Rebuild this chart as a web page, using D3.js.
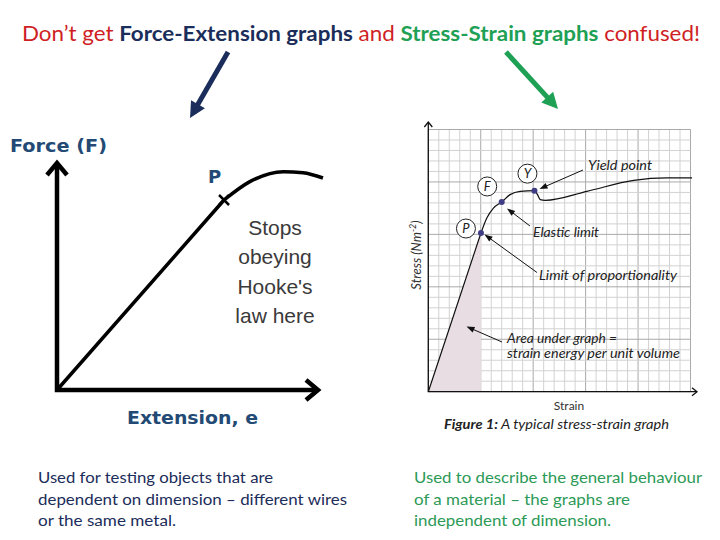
<!DOCTYPE html>
<html><head><meta charset="utf-8">
<script src="https://cdn.jsdelivr.net/npm/d3@7"></script>
<style>html,body{margin:0;padding:0;background:#fff;} svg{display:block;}</style>
</head><body>
<script>
// ---------- data ----------
const titleParts = ["Don’t get ", "Force-Extension graphs", " and ", "Stress-Strain graphs", " confused!"];
const titleKinds = ["red", "navy", "red", "green", "red"];

// Force–extension graph (arbitrary units 0..10 on each axis); index 1 = point P
const feCurve = [[0,0],[6.40,8.37],[7.39,9.18],[8.67,9.62],[9.43,9.57],[10.19,9.34]];
const feNote = ["Stops", "obeying", "Hooke's", "law here"];

// Stress–strain graph (grid units, 25 x 25 squares); index 1 = point P
const ssCurve = [[0,0],[5.02,15.13],[5.58,16.56],[6.21,17.51],[7.0,18.09],[7.8,18.79],[8.76,19.1],
  [10.12,19.17],[10.41,18.79],[10.67,18.31],[11.15,18.24],[15.13,19.1],[19.58,20.15],[22.77,20.38],[25.15,20.38]];
const ssKeyLabels = ["P", "F", "Y"];
const ssKeyPoints = [[5.02,15.13],[7.0,18.09],[10.12,19.17]];
const ssNotes = ["Yield point", "Elastic limit", "Limit of proportionality", "Area under graph =", "strain energy per unit volume"];

const leftText = ["Used for testing objects that are", "dependent on dimension – different wires", "or the same metal."];
const rightText = ["Used to describe the general behaviour", "of a material – the graphs are", "independent of dimension."];

// ---------- drawing ----------
const W = 720, H = 540;
const COL = {red:"#cf1f25", navy:"#1b2d5a", green:"#1ea055", lbl:"#234a75", gray:"#3a3a3a", bgreen:"#2d9a57"};
const svg = d3.select("body").append("svg").attr("width", W).attr("height", H);

function arrow(g, x1, y1, x2, y2, color, w, hl, hw) {
  const a = Math.atan2(y2 - y1, x2 - x1), c = Math.cos(a), s = Math.sin(a);
  const bx = x2 - hl * c, by = y2 - hl * s;
  g.append("line").attr("x1", x1).attr("y1", y1).attr("x2", bx + c).attr("y2", by + s)
    .attr("stroke", color).attr("stroke-width", w);
  g.append("path").attr("d", `M${x2},${y2}L${bx - hw/2*s},${by + hw/2*c}L${bx + hw/2*s},${by - hw/2*c}Z`).attr("fill", color);
}

// Title
const title = svg.append("text").attr("x", 22).attr("y", 41)
  .attr("font-family", "Lato, 'Open Sans', sans-serif").attr("font-size", 21)
  .attr("textLength", 678).attr("lengthAdjust", "spacingAndGlyphs");
titleParts.forEach((t, i) => title.append("tspan").text(t)
  .attr("fill", COL[titleKinds[i]]).attr("font-weight", titleKinds[i] === "red" ? 400 : 700));

arrow(svg, 228, 52, 190, 118, COL.navy, 5, 16, 16);
arrow(svg, 506, 52, 558, 109, COL.green, 5, 16, 16);

// ---- Left: force-extension ----
const xL = d3.scaleLinear().domain([0, 10]).range([57, 318]);
const yL = d3.scaleLinear().domain([0, 10]).range([390, 163]);
const gL = svg.append("g");
gL.append("path").attr("d", `M${xL(0)},${yL(10)}L${xL(0)},${yL(0)}L${xL(10)},${yL(0)}`)
  .attr("fill", "none").attr("stroke", "#000").attr("stroke-width", 4.5);
gL.append("path").attr("d", `M${xL(0)-10},${yL(10)+12}L${xL(0)},${yL(10)}L${xL(0)+10},${yL(10)+12}`)
  .attr("fill", "none").attr("stroke", "#000").attr("stroke-width", 4.5);
gL.append("path").attr("d", `M${xL(10)-12},${yL(0)-10}L${xL(10)},${yL(0)}L${xL(10)-12},${yL(0)+10}`)
  .attr("fill", "none").attr("stroke", "#000").attr("stroke-width", 4.5);
const lineL = d3.line().x(d => xL(d[0])).y(d => yL(d[1]));
gL.append("path").attr("d", lineL(feCurve.slice(0, 2)) + lineL.curve(d3.curveMonotoneX)(feCurve.slice(1)).replace(/^M/, "L"))
  .attr("fill", "none").attr("stroke", "#000").attr("stroke-width", 3.5).attr("stroke-linejoin", "round");
const px = xL(feCurve[1][0]), py = yL(feCurve[1][1]);
gL.append("path").attr("d", `M${px-5},${py-5}L${px+5},${py+5}M${px-5},${py+5}L${px+5},${py-5}`)
  .attr("stroke", "#000").attr("stroke-width", 2.5);
gL.append("text").attr("x", 10).attr("y", 152).text("Force (F)")
  .attr("font-family", "'DejaVu Sans', sans-serif").attr("font-weight", 700).attr("font-size", 18)
  .attr("fill", COL.lbl).attr("textLength", 97).attr("lengthAdjust", "spacingAndGlyphs");
gL.append("text").attr("x", 208).attr("y", 183).text("P")
  .attr("font-family", "'DejaVu Sans', sans-serif").attr("font-weight", 700).attr("font-size", 18).attr("fill", COL.lbl);
gL.append("text").attr("x", 127).attr("y", 424).text("Extension, e")
  .attr("font-family", "'DejaVu Sans', sans-serif").attr("font-weight", 700).attr("font-size", 18)
  .attr("fill", COL.lbl).attr("textLength", 131).attr("lengthAdjust", "spacingAndGlyphs");
feNote.forEach((t, i) => gL.append("text").attr("x", 275).attr("y", 235 + i * 29.3).text(t)
  .attr("text-anchor", "middle").attr("font-family", "'Liberation Sans', Arial, sans-serif")
  .attr("font-size", 21).attr("fill", COL.gray));

// ---- Right: stress-strain ----
const xR = d3.scaleLinear().domain([0, 25]).range([428.3, 690.5]);
const yR = d3.scaleLinear().domain([0, 25]).range([391.7, 129.5]);
const gR = svg.append("g");
const ticks = d3.range(0, 26);
gR.selectAll("line.v").data(ticks).join("line")
  .attr("x1", d => xR(d)).attr("x2", d => xR(d)).attr("y1", yR(0)).attr("y2", yR(25))
  .attr("stroke", d => d % 5 === 0 ? "#a9a9a9" : "#d2d2d2").attr("stroke-width", 1);
gR.selectAll("line.h").data(ticks).join("line")
  .attr("y1", d => yR(d)).attr("y2", d => yR(d)).attr("x1", xR(0)).attr("x2", xR(25))
  .attr("stroke", d => d % 5 === 0 ? "#a9a9a9" : "#d2d2d2").attr("stroke-width", 1);
// shaded area
gR.append("path").datum(ssCurve.slice(0, 2))
  .attr("d", d3.area().x(d => xR(d[0])).y0(yR(0)).y1(d => yR(d[1])))
  .attr("fill", "#e9dde4");
// axes
gR.append("path").attr("d", `M${xR(0)},122L${xR(0)},${yR(0)}L697,${yR(0)}`)
  .attr("fill", "none").attr("stroke", "#111").attr("stroke-width", 1.3);
gR.append("path").attr("d", `M${xR(0)-4},127L${xR(0)},122L${xR(0)+4},127M692,${yR(0)-4}L697,${yR(0)}L692,${yR(0)+4}`)
  .attr("fill", "none").attr("stroke", "#111").attr("stroke-width", 1.3);
// curve
const lineR = d3.line().x(d => xR(d[0])).y(d => yR(d[1]));
gR.append("path").attr("d", lineR(ssCurve.slice(0, 2)) + lineR.curve(d3.curveMonotoneX)(ssCurve.slice(1)).replace(/^M/, "L"))
  .attr("fill", "none").attr("stroke", "#111").attr("stroke-width", 1.2);
// key points
const circOff = [[-15, -4.5], [-14.5, -15.5], [-7, -17]];
ssKeyPoints.forEach((p, i) => {
  const cx = xR(p[0]) + circOff[i][0], cy = yR(p[1]) + circOff[i][1];
  gR.append("circle").attr("cx", cx).attr("cy", cy).attr("r", 9.5)
    .attr("fill", "#fff").attr("stroke", "#222").attr("stroke-width", 1);
  gR.append("text").attr("x", cx).attr("y", cy + 4.5).text(ssKeyLabels[i]).attr("text-anchor", "middle")
    .attr("font-family", "Lato, sans-serif").attr("font-style", "italic").attr("font-size", 13).attr("fill", "#222");
});
ssKeyPoints.forEach(p => gR.append("circle").attr("cx", xR(p[0])).attr("cy", yR(p[1])).attr("r", 3).attr("fill", "#3f3d85"));

// annotations
const noteFont = g => g.attr("font-family", "Lato, sans-serif").attr("font-style", "italic").attr("font-size", 12.5).attr("fill", "#222");
const notePos = [[588, 170, 64], [533, 237, 66], [539, 280, 138], [507, 343, 110], [507, 358, 173]];
ssNotes.forEach((t, i) => gR.append("text").attr("x", notePos[i][0]).attr("y", notePos[i][1]).text(t)
  .call(noteFont).attr("textLength", notePos[i][2]).attr("lengthAdjust", "spacingAndGlyphs"));
arrow(gR, 583, 170, 539.5, 189, "#111", 1, 8, 6);
arrow(gR, 530, 226, 507, 208.5, "#111", 1, 8, 6);
arrow(gR, 537, 272.5, 484.5, 234.5, "#111", 1, 8, 6);
arrow(gR, 502, 342, 466.5, 326.5, "#111", 1, 8, 6);

gR.append("text").attr("x", 569).attr("y", 410).text("Strain").attr("text-anchor", "middle")
  .attr("font-family", "Lato, sans-serif").attr("font-size", 12).attr("fill", "#333");
const cap = gR.append("text").attr("x", 444).attr("y", 429)
  .attr("font-family", "Lato, sans-serif").attr("font-style", "italic").attr("font-size", 13).attr("fill", "#222")
  .attr("textLength", 225).attr("lengthAdjust", "spacingAndGlyphs");
cap.append("tspan").attr("font-weight", 700).text("Figure 1:");
cap.append("tspan").text("  A typical stress-strain graph");
const yl = gR.append("text").attr("transform", "translate(421,255) rotate(-90)").attr("text-anchor", "middle")
  .attr("font-family", "Lato, sans-serif").attr("font-style", "italic").attr("font-size", 13).attr("fill", "#333");
yl.append("tspan").text("Stress (Nm");
yl.append("tspan").attr("dy", -5).attr("font-size", 9).text("-2");
yl.append("tspan").attr("dy", 5).text(")");

// Bottom texts
const leftLens = [235, 309, 138], rightLens = [288, 216, 197];
leftText.forEach((t, i) => svg.append("text").attr("x", 38).attr("y", 483 + i * 21.5).text(t)
  .attr("font-family", "Lato, sans-serif").attr("font-size", 15).attr("fill", COL.navy)
  .attr("textLength", leftLens[i]).attr("lengthAdjust", "spacingAndGlyphs"));
rightText.forEach((t, i) => svg.append("text").attr("x", 414).attr("y", 483 + i * 21.5).text(t)
  .attr("font-family", "Lato, sans-serif").attr("font-size", 15).attr("fill", COL.bgreen)
  .attr("textLength", rightLens[i]).attr("lengthAdjust", "spacingAndGlyphs"));
</script>
</body></html>
